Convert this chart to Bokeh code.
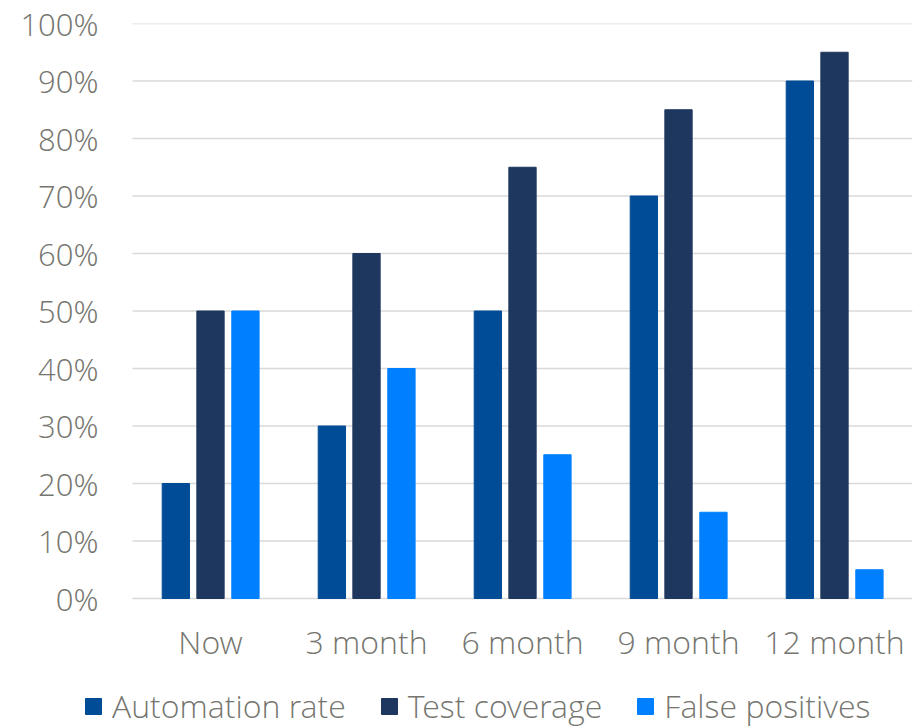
from bokeh.plotting import figure
from bokeh.models import ColumnDataSource, Range1d, Legend, LegendItem, FixedTicker, CustomJSTickFormatter
from bokeh.core.properties import value
from bokeh.transform import dodge
from bokeh.embed import file_html
from bokeh.resources import INLINE

categories = ["Now", "3 month", "6 month", "9 month", "12 month"]
automation_rate = [20, 30, 50, 70, 90]
test_coverage = [50, 60, 75, 85, 95]
false_positives = [50, 40, 25, 15, 5]
y_ticks = [0, 10, 20, 30, 40, 50, 60, 70, 80, 90, 100]

series_names = ["Automation rate", "Test coverage", "False positives"]
colors = ["#004C97", "#1D375E", "#0080FF"]
grid_color = "#D9D9D9"
text_color = "#767670"
font = "Open Sans Light"

n = len(categories)
centers = [i + 0.5 for i in range(n)]
src = ColumnDataSource(dict(cat=categories, x=centers, a=automation_rate, t=test_coverage, f=false_positives))

# frame covers the whole lower area so the legend sits inside it
p = figure(x_range=Range1d(-48 / 156, n), y_range=Range1d(-129 / 5.75, 100),
           width=914, height=727, output_backend="svg", toolbar_location=None,
           min_border_left=84, min_border_right=2, min_border_top=23, min_border_bottom=0)
p.outline_line_color = None
p.xaxis.visible = False
p.grid.visible = False

# horizontal gridlines at the tick values, spanning the category area
p.segment(x0=[0] * len(y_ticks), x1=[n] * len(y_ticks), y0=y_ticks, y1=y_ticks,
          line_color=grid_color, line_width=1.5)

bw = 0.175
offs = [-0.222, 0.0, 0.224]
rs = []
for col, off, c in zip(["a", "t", "f"], offs, colors):
    r = p.vbar(x=dodge("x", off), top=col, width=bw, source=src,
               fill_color=c, line_color=c, line_width=1)
    rs.append(r)

# category labels under the bars
p.text(x="x", y=0, text="cat", source=src, text_font=value(font), text_font_size="32px",
       text_color=text_color, text_align="center", text_baseline="middle", y_offset=43)

p.yaxis.ticker = FixedTicker(ticks=y_ticks)
p.yaxis.formatter = CustomJSTickFormatter(code="return tick + '%';")
ax = p.yaxis[0]
ax.axis_line_color = None
ax.major_tick_line_color = None
ax.minor_tick_line_color = None
ax.major_tick_out = 0
ax.major_tick_in = 0
ax.minor_tick_out = 0
ax.major_label_text_font = font
ax.major_label_text_font_size = "31px"
ax.major_label_text_color = text_color
ax.major_label_standoff = -14

legend = Legend(items=[LegendItem(label=nm, renderers=[r]) for nm, r in zip(series_names, rs)],
                orientation="horizontal", location=(-1, 0),
                label_text_font=font, label_text_font_size="32px", label_text_color=text_color,
                glyph_width=20, glyph_height=20, label_standoff=9, spacing=33,
                padding=0, margin=0, border_line_color=None, background_fill_alpha=0)
p.add_layout(legend, "center")

open("out.html", "w").write(file_html(p, INLINE))
